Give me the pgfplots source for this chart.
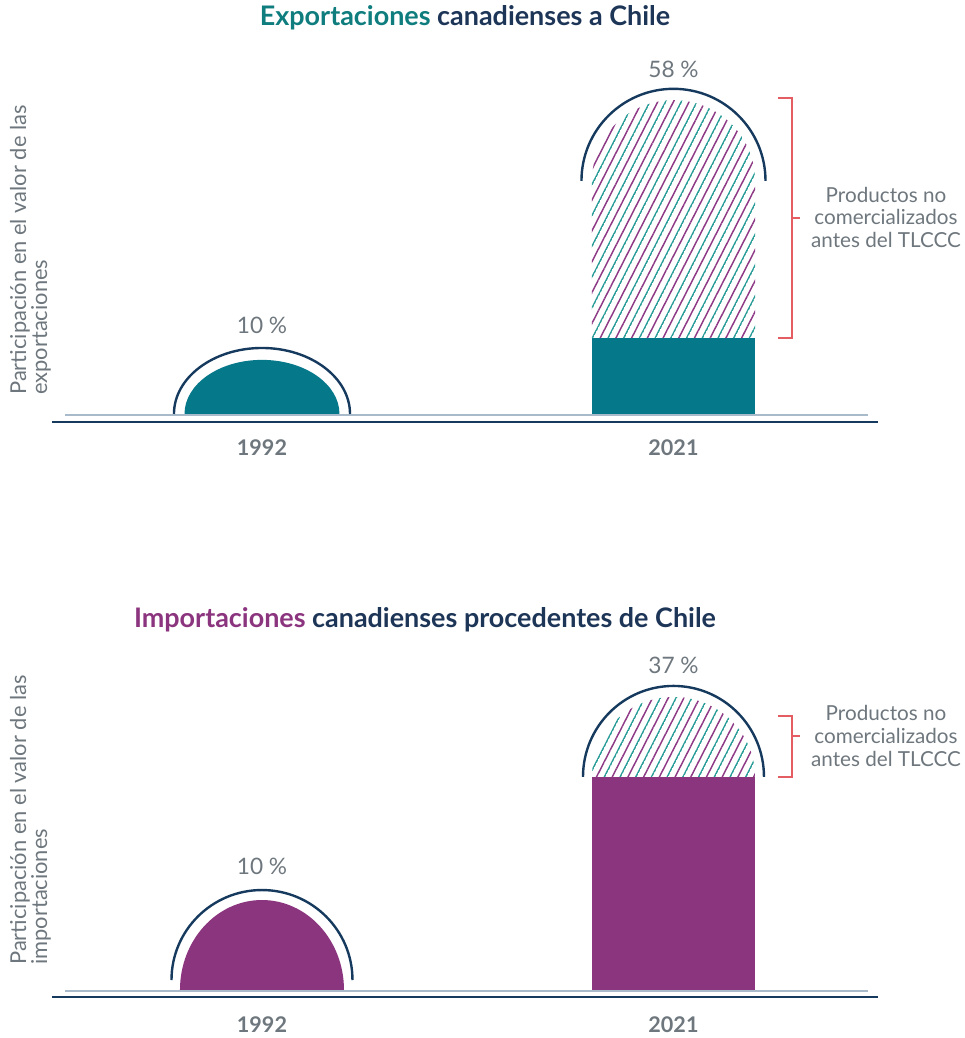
\documentclass[border=0pt]{standalone}
\usepackage{pgfplots}
\pgfplotsset{compat=1.18}
\usepackage{fontspec}
\setmainfont{Lato}
\usetikzlibrary{patterns.meta}
\definecolor{tealfill}{HTML}{05788A}
\definecolor{tealtitle}{HTML}{0F7D7E}
\definecolor{tealhatch}{HTML}{2A9D98}
\definecolor{purplefill}{HTML}{8C357F}
\definecolor{purplehatch}{HTML}{8E3A86}
\definecolor{navy}{HTML}{163A5E}
\definecolor{titlenavy}{HTML}{1D3557}
\definecolor{txtgray}{HTML}{6E777D}
\definecolor{bracketred}{HTML}{E35D63}
\definecolor{basecolor}{HTML}{A9BACB}

\tikzdeclarepattern{
  name=duo,
  type=colored,
  bounding box={(0pt,-0.6pt) and (10pt,10.5pt)},
  tile size={(10pt,10.5pt)},
  tile transformation={rotate=63},
  code={
    \draw[tealhatch, line width=1.1pt] (0pt,0pt) -- (10pt,0pt);
    \draw[purplehatch, line width=1.1pt] (0pt,5.25pt) -- (10pt,5.25pt);
  }
}

\pgfplotsset{
  panel/.style={
    scale only axis, width=619.5pt,
    xmin=-0.5103, xmax=1.497,
    axis x line*=bottom, axis y line=none,
    x axis line style={navy, line width=2.2pt, -},
    xtick={0,1}, xticklabels={1992,2021},
    major tick length=0pt,
    xticklabel style={font=\bfseries\fontsize{16.2}{18}\selectfont, text=txtgray, anchor=center},
    clip=false,
    title style={font=\bfseries\fontsize{20.2}{24}\selectfont, anchor=center},
  },
}
\tikzset{
  pct/.style={font=\fontsize{17}{19}\selectfont, text=txtgray},
  annot/.style={font=\fontsize{15.5}{17}\selectfont, text=txtgray, align=center},
  ylab/.style={font=\fontsize{16.4}{15.8}\selectfont, text=txtgray, align=left, rotate=90, anchor=west, inner sep=0pt},
}

\begin{document}
\begin{tikzpicture}

% ---------------- Exportaciones ----------------
\begin{axis}[panel,
  at={(39pt,462pt)}, anchor=south west, height=271.5pt,
  ymin=-1.479, ymax=65.43,
  xticklabel style={yshift=-19.5pt},
  title={\textcolor{tealtitle}{Exportaciones} \textcolor{titlenavy}{canadienses a Chile}},
  title style={at={(0.5,1)}, yshift=25.5pt},
]
\draw[basecolor, line width=1.1pt] (axis cs:-0.4787,-0.15) -- (axis cs:1.4727,-0.15);
% 1992: 10 %
\fill[tealfill] (axis cs:-0.1883,0) .. controls (axis cs:-0.1883,5.523) and (axis cs:-0.1040,10) .. (axis cs:0,10) .. controls (axis cs:0.1040,10) and (axis cs:0.1883,5.523) .. (axis cs:0.1883,0) -- cycle;
\draw[navy, line width=1.8pt] (axis cs:-0.2139,0) .. controls (axis cs:-0.2139,6.738) and (axis cs:-0.1181,12.2) .. (axis cs:0,12.2) .. controls (axis cs:0.1181,12.2) and (axis cs:0.2139,6.738) .. (axis cs:0.2139,0);
% 2021: 14 % existing products + new products up to 58 %
\addplot[fill=tealfill, draw=none] coordinates {(0.8019,0) (0.8019,14) (1.1981,14) (1.1981,0)};
\fill[pattern=duo] (axis cs:0.8019,14) -- (axis cs:0.8019,43.1) .. controls (axis cs:0.8019,51.33) and (axis cs:0.8906,58) .. (axis cs:1,58) .. controls (axis cs:1.1094,58) and (axis cs:1.1981,51.33) .. (axis cs:1.1981,43.1) -- (axis cs:1.1981,14) -- cycle;
\draw[navy, line width=1.8pt] (axis cs:0.7764,43.1) .. controls (axis cs:0.7764,52.49) and (axis cs:0.8765,60.1) .. (axis cs:1,60.1) .. controls (axis cs:1.1235,60.1) and (axis cs:1.2236,52.49) .. (axis cs:1.2236,43.1);
\node[pct] at (axis cs:0,16.3) {10~\%};
\node[pct] at (axis cs:1,63.6) {58~\%};
\draw[bracketred, line width=1.5pt] (axis cs:1.2539,58.4) -- (axis cs:1.2880,58.4) -- (axis cs:1.2880,14.05) -- (axis cs:1.2539,14.05);
\draw[bracketred, line width=1.5pt] (axis cs:1.2880,36.2) -- (axis cs:1.3074,36.2);
\node[annot] at (axis cs:1.5164,36.35) {Productos no\\comercializados\\antes del TLCCC};
\node[ylab] at (axis cs:-0.5626,3.51) {Participación en el valor de las\\exportaciones};
\end{axis}

% ---------------- Importaciones ----------------
\begin{axis}[panel,
  at={(39pt,30.75pt)}, anchor=south west, height=267.75pt,
  ymin=-0.884, ymax=44.19,
  xticklabel style={yshift=-21pt},
  title={\textcolor{purplefill}{Importaciones} \textcolor{titlenavy}{canadienses procedentes de Chile}},
  title style={at={(0.4516,1)}, yshift=9pt},
]
\draw[basecolor, line width=1.1pt] (axis cs:-0.4787,-0.1) -- (axis cs:1.4727,-0.1);
% 1992: 10 %
\fill[purplefill] (axis cs:-0.1993,0) .. controls (axis cs:-0.1993,6.274) and (axis cs:-0.1101,11.36) .. (axis cs:0,11.36) .. controls (axis cs:0.1101,11.36) and (axis cs:0.1993,6.274) .. (axis cs:0.1993,0) -- cycle;
\draw[navy, line width=1.8pt] (axis cs:-0.2199,1.26) .. controls (axis cs:-0.2199,7.534) and (axis cs:-0.1215,12.62) .. (axis cs:0,12.62) .. controls (axis cs:0.1215,12.62) and (axis cs:0.2199,7.534) .. (axis cs:0.2199,1.26);
% 2021: 27 % existing products + new products up to 37 %
\addplot[fill=purplefill, draw=none] coordinates {(0.8019,0) (0.8019,26.9) (1.1981,26.9) (1.1981,0)};
\fill[pattern=duo] (axis cs:0.8019,26.9) .. controls (axis cs:0.8019,32.48) and (axis cs:0.8906,37) .. (axis cs:1,37) .. controls (axis cs:1.1094,37) and (axis cs:1.1981,32.48) .. (axis cs:1.1981,26.9) -- cycle;
\draw[navy, line width=1.8pt] (axis cs:0.7801,26.9) .. controls (axis cs:0.7801,33.25) and (axis cs:0.8785,38.39) .. (axis cs:1,38.39) .. controls (axis cs:1.1215,38.39) and (axis cs:1.2199,33.25) .. (axis cs:1.2199,26.9);
\node[pct] at (axis cs:0,15.66) {10~\%};
\node[pct] at (axis cs:1,41.04) {37~\%};
\draw[bracketred, line width=1.5pt] (axis cs:1.2539,34.6) -- (axis cs:1.2880,34.6) -- (axis cs:1.2880,26.95) -- (axis cs:1.2539,26.95);
\draw[bracketred, line width=1.5pt] (axis cs:1.2880,32.07) -- (axis cs:1.3074,32.07);
\node[annot] at (axis cs:1.5164,32.08) {Productos no\\comercializados\\antes del TLCCC};
\node[ylab] at (axis cs:-0.5626,3.16) {Participación en el valor de las\\importaciones};
\end{axis}
\pgfresetboundingbox
\path (0,0) rectangle (723pt,778.5pt);
\end{tikzpicture}
\end{document}
